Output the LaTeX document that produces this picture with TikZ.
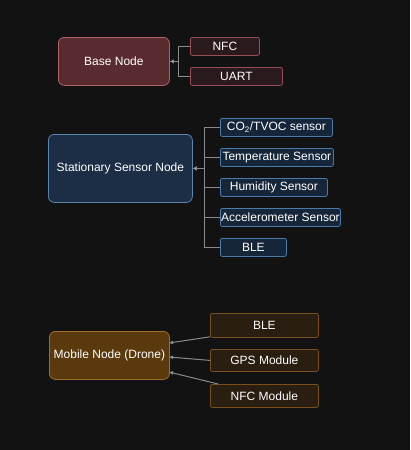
\documentclass[tikz,border=0pt]{standalone}
\usepackage{fontspec}
\setmainfont{Liberation Sans}
\usetikzlibrary{arrows.meta}
\definecolor{bg}{HTML}{121212}
\definecolor{rfill}{HTML}{5A2B2E}
\definecolor{rdraw}{HTML}{B0646A}
\definecolor{rcfill}{HTML}{2A1A1D}
\definecolor{rcdraw}{HTML}{9A4E54}
\definecolor{bfill}{HTML}{1B2E46}
\definecolor{bdraw}{HTML}{5A86B0}
\definecolor{bcfill}{HTML}{16263A}
\definecolor{bcdraw}{HTML}{4A7AA8}
\definecolor{ofill}{HTML}{5A3A0C}
\definecolor{odraw}{HTML}{A06E2A}
\definecolor{ocfill}{HTML}{2A1E10}
\definecolor{ocdraw}{HTML}{7A4E1E}
\definecolor{link}{HTML}{8A8A8A}
\tikzset{
  box/.style={rectangle, rounded corners=6pt, line width=0.8pt, text=white, font=\fontsize{12}{14}\selectfont, inner sep=0pt, anchor=north west},
  cbox/.style={rectangle, rounded corners=2pt, line width=0.8pt, text=white, font=\fontsize{12}{14}\selectfont, inner sep=0pt, anchor=north west},
  conn/.style={draw=link, line width=1pt, -{Latex[length=4pt,width=4pt,fill=white]}},
}
\begin{document}
\begin{tikzpicture}[x=1pt,y=-1pt]
\fill[bg] (0,0) rectangle (410,450);
\useasboundingbox (0,0) rectangle (410,450);
% Base node group
\node[box, fill=rfill, draw=rdraw, minimum width=111pt, minimum height=48pt] (base) at (58,37) {Base Node};
\node[cbox, fill=rcfill, draw=rcdraw, minimum width=69pt, minimum height=18pt] (nfc) at (190,37) {NFC};
\node[cbox, fill=rcfill, draw=rcdraw, minimum width=92pt, minimum height=18pt] (uart) at (190,67) {UART};
\draw[conn] (nfc.west) -- ++(-12,0) |- (base.east);
\draw[conn] (uart.west) -- ++(-12,0) |- (base.east);
% Stationary group
\node[box, fill=bfill, draw=bdraw, minimum width=144pt, minimum height=68pt] (stat) at (48,134) {Stationary Sensor Node};
\node[cbox, fill=bcfill, draw=bcdraw, minimum width=112pt, minimum height=18pt] (co2) at (220,118) {CO\textsubscript{2}/TVOC sensor};
\node[cbox, fill=bcfill, draw=bcdraw, minimum width=113pt, minimum height=18pt] (temp) at (220,148) {Temperature Sensor};
\node[cbox, fill=bcfill, draw=bcdraw, minimum width=107pt, minimum height=18pt] (hum) at (220,178) {Humidity Sensor};
\node[cbox, fill=bcfill, draw=bcdraw, minimum width=120pt, minimum height=18pt] (acc) at (220,208) {Accelerometer Sensor};
\node[cbox, fill=bcfill, draw=bcdraw, minimum width=66pt, minimum height=18pt] (ble1) at (220,238) {BLE};
\foreach \n in {co2,temp,hum,acc,ble1}
  \draw[conn] (\n.west) -- ++(-16,0) |- (stat.east);
% Mobile group
\node[box, fill=ofill, draw=odraw, minimum width=120pt, minimum height=48pt] (mob) at (49,331) {Mobile Node (Drone)};
\node[cbox, fill=ocfill, draw=ocdraw, minimum width=108pt, minimum height=24pt] (ble2) at (210,313) {BLE};
\node[cbox, fill=ocfill, draw=ocdraw, minimum width=108pt, minimum height=22pt] (gps) at (210,349) {GPS Module};
\node[cbox, fill=ocfill, draw=ocdraw, minimum width=108pt, minimum height=23pt] (nfcm) at (210,384) {NFC Module};
\coordinate (m1) at (169,343);
\coordinate (m2) at (169,357);
\coordinate (m3) at (169,372);
\coordinate (s3) at (218,384);
\draw[conn] (ble2.south west) ++(0,-1) -- (m1);
\draw[conn] (gps.west) -- (m2);
\draw[conn] (s3) -- (m3);
\end{tikzpicture}
\end{document}
